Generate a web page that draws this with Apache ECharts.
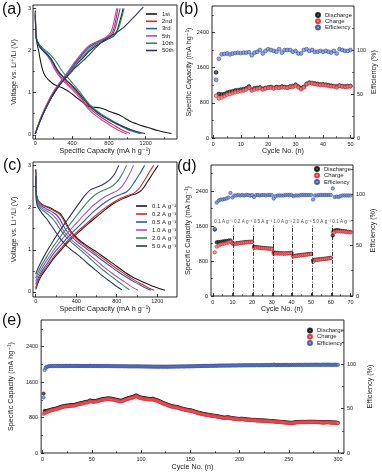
<!DOCTYPE html>
<html><head><meta charset="utf-8">
<script src="https://cdn.jsdelivr.net/npm/echarts@6/dist/echarts.min.js"></script>
<style>html,body{margin:0;padding:0;background:#fff}#c{width:382px;height:476px}</style>
</head><body><div id="c"></div>
<script>
// ---------- Panel (a): charge/discharge profiles at different cycles ----------
const cyclesA = ['1st','2nd','3rd','5th','10th','50th'];
const a1stDis = [[0,2.95],[4,2.6],[10,2.3],[20,2.15],[36,2.0],[52,1.8],[72,1.6],[95,1.45],[120,1.36],[160,1.27],[200,1.2],[250,1.15],[307,1.1],[380,1.0],[450,0.88],[520,0.76],[578,0.67],[640,0.655],[700,0.64],[760,0.6],[800,0.56],[850,0.52],[903,0.48],[970,0.4],[1030,0.32],[1100,0.26],[1180,0.2],[1246,0.16],[1330,0.1],[1410,0.06],[1481,0.03]];
const a1stChg = [[0,0.03],[30,0.2],[70,0.42],[126,0.68],[180,0.9],[240,1.1],[307,1.3],[370,1.47],[430,1.62],[488,1.76],[540,1.88],[590,1.99],[640,2.08],[700,2.17],[760,2.24],[820,2.3],[860,2.36],[890,2.48],[912,2.64],[935,2.82],[955,3.0]];
const a2ndDis = [[0,2.92],[3,2.6],[8,2.35],[18,2.24],[50,2.1],[90,2.0],[130,1.9],[163,1.8],[190,1.7],[217,1.58],[245,1.48],[271,1.4],[310,1.3],[343,1.23],[400,1.12],[452,1.0],[500,0.87],[542,0.74],[600,0.61],[668,0.49],[740,0.38],[813,0.28],[880,0.19],[955,0.1],[1030,0.03]];
const a2ndChg = [[0,0.03],[30,0.22],[70,0.45],[126,0.72],[180,0.95],[240,1.15],[307,1.34],[370,1.52],[430,1.7],[488,1.86],[530,1.98],[570,2.07],[620,2.14],[670,2.2],[720,2.25],[770,2.3],[810,2.35],[840,2.44],[860,2.58],[880,2.78],[898,3.0]];
const a3rdDis = [[0,2.9],[3,2.6],[8,2.36],[18,2.25],[50,2.11],[90,2.01],[130,1.92],[165,1.82],[195,1.71],[222,1.6],[250,1.5],[280,1.42],[320,1.32],[355,1.25],[410,1.14],[465,1.01],[515,0.88],[560,0.75],[620,0.62],[690,0.5],[770,0.39],[850,0.29],[930,0.2],[1020,0.11],[1138,0.03]];
const a3rdChg = [[0,0.03],[30,0.22],[70,0.45],[126,0.71],[180,0.93],[240,1.13],[307,1.32],[370,1.5],[430,1.67],[488,1.83],[530,1.95],[575,2.05],[625,2.13],[680,2.2],[730,2.25],[780,2.3],[825,2.35],[855,2.44],[878,2.6],[900,2.8],[922,3.0]];
const a5thDis = [[0,2.9],[3,2.58],[8,2.33],[18,2.22],[50,2.08],[90,1.98],[130,1.88],[160,1.78],[185,1.67],[212,1.55],[240,1.45],[268,1.37],[305,1.27],[340,1.2],[395,1.09],[445,0.97],[490,0.85],[535,0.72],[590,0.58],[655,0.46],[725,0.35],[795,0.25],[860,0.16],[930,0.08],[993,0.02]];
const a5thChg = [[0,0.03],[30,0.23],[70,0.46],[126,0.73],[180,0.96],[240,1.17],[307,1.36],[370,1.55],[430,1.73],[488,1.89],[530,2.0],[570,2.09],[620,2.16],[670,2.21],[720,2.26],[765,2.31],[800,2.37],[828,2.47],[848,2.62],[866,2.8],[884,3.0]];
const a10thDis = [[0,2.88],[3,2.58],[8,2.35],[18,2.24],[50,2.12],[90,2.04],[130,1.97],[175,1.87],[210,1.78],[245,1.67],[280,1.55],[310,1.46],[343,1.38],[400,1.24],[452,1.1],[500,0.97],[545,0.84],[590,0.72],[650,0.6],[720,0.49],[800,0.38],[880,0.28],[960,0.19],[1050,0.11],[1156,0.03]];
const a10thChg = [[0,0.03],[30,0.21],[70,0.43],[126,0.69],[180,0.91],[240,1.11],[307,1.3],[370,1.47],[430,1.63],[488,1.78],[540,1.92],[590,2.03],[640,2.12],[700,2.2],[760,2.26],[820,2.31],[865,2.37],[895,2.48],[920,2.63],[943,2.81],[965,3.0]];
const a50thDis = [[0,2.85],[3,2.55],[8,2.32],[18,2.22],[50,2.08],[90,1.98],[130,1.9],[170,1.8],[200,1.7],[230,1.58],[260,1.48],[295,1.4],[335,1.3],[390,1.19],[445,1.06],[495,0.93],[545,0.8],[590,0.68],[650,0.57],[720,0.46],[800,0.36],[890,0.26],[980,0.17],[1080,0.09],[1192,0.03]];
const a50thChg = [[0,0.03],[30,0.2],[70,0.42],[130,0.7],[200,0.98],[260,1.18],[307,1.3],[370,1.44],[430,1.58],[500,1.72],[578,1.88],[650,2.05],[722,2.2],[790,2.3],[849,2.38],[900,2.45],[960,2.55],[1030,2.7],[1100,2.86],[1174,3.03]];

// ---------- Panel (c): profiles at different current densities ----------
const ratesC = ['0.1 A g⁻¹','0.2 A g⁻¹','0.5 A g⁻¹','1.0 A g⁻¹','2.0 A g⁻¹','5.0 A g⁻¹'];
const c01Dis = [[0,2.9],[3,2.55],[8,2.3],[23,2.17],[60,2.08],[100,2.03],[138,2.0],[190,1.93],[230,1.88],[254,1.82],[280,1.72],[303,1.62],[330,1.5],[353,1.42],[390,1.32],[435,1.22],[480,1.14],[540,1.04],[600,0.95],[680,0.81],[765,0.67],[850,0.52],[930,0.39],[1010,0.29],[1095,0.2],[1185,0.11],[1276,0.04]];
const c01Chg = [[0,0.06],[20,0.2],[50,0.36],[105,0.55],[180,0.8],[270,1.05],[350,1.26],[435,1.44],[520,1.62],[600,1.78],[680,1.94],[765,2.09],[850,2.2],[930,2.28],[990,2.33],[1030,2.38],[1065,2.47],[1100,2.6],[1140,2.75],[1175,2.88],[1210,3.0]];
const c02Dis = [[0,2.9],[3,2.55],[8,2.3],[22,2.17],[60,2.07],[100,2.02],[138,1.98],[185,1.92],[225,1.86],[250,1.8],[275,1.7],[298,1.6],[325,1.48],[348,1.4],[385,1.3],[430,1.2],[475,1.12],[530,1.02],[590,0.92],[665,0.79],[745,0.65],[825,0.51],[900,0.39],[975,0.28],[1050,0.18],[1110,0.1],[1170,0.04]];
const c02Chg = [[0,0.1],[20,0.24],[50,0.4],[105,0.59],[180,0.84],[270,1.09],[350,1.3],[435,1.48],[520,1.66],[600,1.83],[680,1.98],[765,2.12],[840,2.22],[910,2.29],[960,2.33],[1000,2.4],[1035,2.5],[1070,2.63],[1105,2.77],[1135,2.89],[1165,3.0]];
const c05Dis = [[0,2.88],[3,2.5],[8,2.25],[20,2.13],[60,2.03],[100,1.98],[138,1.93],[180,1.87],[215,1.8],[240,1.72],[262,1.62],[285,1.52],[312,1.42],[340,1.34],[380,1.25],[425,1.16],[470,1.08],[525,0.98],[585,0.88],[655,0.75],[730,0.62],[805,0.49],[880,0.37],[950,0.27],[1020,0.18],[1080,0.1],[1140,0.04]];
const c05Chg = [[0,0.18],[20,0.3],[50,0.45],[105,0.65],[180,0.92],[270,1.17],[350,1.38],[435,1.58],[510,1.76],[580,1.92],[650,2.06],[720,2.18],[790,2.27],[850,2.32],[895,2.37],[930,2.45],[965,2.57],[1000,2.7],[1035,2.83],[1075,3.0]];
const c10Dis = [[0,2.85],[3,2.45],[8,2.2],[18,2.1],[55,2.0],[95,1.94],[135,1.88],[175,1.81],[205,1.73],[230,1.64],[252,1.54],[275,1.45],[300,1.37],[330,1.29],[370,1.2],[415,1.11],[460,1.02],[510,0.92],[560,0.82],[620,0.7],[685,0.57],[750,0.45],[815,0.34],[875,0.24],[930,0.15],[970,0.09],[1010,0.04]];
const c10Chg = [[0,0.25],[20,0.37],[50,0.52],[105,0.73],[180,1.0],[260,1.25],[340,1.47],[420,1.68],[490,1.86],[555,2.02],[620,2.15],[690,2.27],[750,2.34],[800,2.39],[840,2.47],[875,2.58],[905,2.7],[935,2.84],[965,3.0]];
const c20Dis = [[0,2.82],[3,2.4],[8,2.17],[18,2.07],[50,1.97],[90,1.9],[130,1.82],[165,1.74],[195,1.65],[220,1.56],[245,1.47],[270,1.39],[300,1.3],[335,1.22],[375,1.13],[420,1.04],[465,0.94],[515,0.84],[565,0.73],[620,0.61],[680,0.49],[740,0.38],[795,0.28],[845,0.19],[885,0.12],[925,0.05]];
const c20Chg = [[0,0.33],[20,0.45],[50,0.6],[105,0.82],[180,1.1],[255,1.35],[330,1.58],[400,1.8],[460,1.98],[515,2.14],[575,2.28],[640,2.38],[700,2.44],[750,2.5],[790,2.58],[825,2.68],[860,2.82],[897,3.0]];
const c50Dis = [[0,2.75],[3,2.3],[8,2.12],[18,2.03],[40,1.94],[70,1.84],[105,1.74],[140,1.62],[175,1.5],[205,1.39],[237,1.28],[270,1.18],[310,1.08],[360,0.98],[410,0.89],[460,0.79],[510,0.68],[560,0.58],[610,0.48],[660,0.38],[710,0.29],[760,0.2],[805,0.12],[850,0.05]];
const c50Chg = [[0,0.42],[20,0.55],[50,0.7],[100,0.92],[170,1.2],[240,1.46],[310,1.7],[380,1.94],[440,2.14],[490,2.3],[540,2.42],[600,2.48],[650,2.53],[700,2.6],[740,2.68],[780,2.8],[820,3.0]];

// ---------- Panel (b): 50 cycles at 0.1 A/g ----------
const bDis = [1490,1000,990,1000,1030,1050,1060,1080,1090,1100,1110,1130,1170,1100,1130,1140,1150,1120,1140,1150,1160,1140,1160,1150,1170,1160,1150,1170,1180,1210,1170,1130,1160,1230,1260,1250,1240,1230,1220,1220,1210,1200,1190,1180,1170,1190,1180,1170,1180,1180];
const bChg = [960,900,920,950,985,1000,1020,1040,1055,1065,1080,1100,1140,1080,1100,1115,1135,1100,1125,1140,1145,1125,1140,1140,1150,1145,1140,1160,1160,1190,1150,1110,1150,1220,1245,1240,1225,1215,1205,1205,1195,1185,1175,1170,1150,1185,1170,1160,1165,1175];
const bEff = [66,90,95,95.5,96,95,96,96.5,97,96.5,97,97,97.5,94,97,98,100,96,99,101,100,99,98,101,97,100,100,100,98,99,96,96,100,101,99,100,98,98,99,98,99,98,97,99,96,101,100,99,99,100];

// ---------- Panel (d): rate capability ----------
const rateNames = ['0.1 A g⁻¹','0.2 A g⁻¹','0.5 A g⁻¹','1.0 A g⁻¹','2.0 A g⁻¹','5.0 A g⁻¹','0.1 A g⁻¹'];
const rateStarts = [1,11,21,31,41,51,61];
const dDis = [1520,1230,1235,1240,1250,1255,1260,1270,1275,1210,
1200,1205,1210,1220,1225,1230,1235,1240,1240,1245,
1130,1120,1115,1110,1105,1100,1095,1090,1090,1085,
995,990,985,980,980,975,978,980,985,990,
915,920,930,935,940,945,950,955,960,965,
820,830,835,840,845,850,855,860,865,875,
1385,1500,1510,1505,1495,1490,1485,1480,1470,1465];
const dChg = [1000,1130,1160,1180,1190,1200,1215,1230,1245,1200,
1190,1198,1205,1213,1218,1222,1228,1232,1235,1238,
1100,1108,1105,1100,1097,1092,1088,1084,1082,1078,
965,975,975,972,970,968,972,975,978,982,
900,910,920,927,933,938,944,949,954,958,
780,820,828,834,840,845,850,855,860,868,
1465,1460,1480,1480,1478,1475,1470,1466,1460,1455];
const dEff = [66,92,94,95,95,95.5,96,97,101.5,97,
99,99,99.5,99,99.5,99,99.5,99.5,99,99.5,
97.5,99.5,99.5,99,99.5,99.5,99,99.5,99.5,99.5,
96,98.5,99,99,99,99,99.5,99.5,99.5,99.5,
98.5,99,99,99,99.5,99.5,99.5,99.5,99.5,99.5,
95,99,99,99.5,99.5,99.5,99.5,99.5,99.5,99.5,
106,97.5,98,97.5,98.5,99,99,99,99,99];

// ---------- Panel (e): 300 cycles ----------
const eDis = [
1340,950,940,945,955,960,965,975,980,985,
990,995,1000,1005,1010,1020,1030,1035,1045,1050,
1055,1060,1065,1068,1070,1072,1075,1078,1080,1082,
1080,1085,1090,1095,1105,1110,1115,1120,1125,1130,
1135,1140,1150,1155,1150,1160,1170,1185,1180,1175,
1170,1168,1172,1178,1180,1185,1190,1200,1205,1210,
1215,1220,1222,1225,1230,1235,1232,1230,1228,1225,
1220,1215,1210,1205,1200,1195,1190,1185,1180,1178,
1185,1195,1205,1215,1222,1230,1238,1245,1250,1255,
1262,1270,1278,1285,1300,1290,1275,1265,1258,1250,
1245,1240,1238,1235,1232,1228,1225,1222,1220,1218,
1222,1228,1215,1205,1200,1195,1185,1175,1165,1155,
1145,1135,1125,1115,1108,1100,1090,1082,1075,1065,
1060,1055,1050,1045,1042,1040,1035,1028,1020,1012,
1005,1000,995,990,985,980,975,970,968,965,
960,955,948,940,932,925,918,912,905,900,
895,890,885,880,876,872,868,865,860,856,
852,848,845,842,840,836,832,828,824,820,
815,810,805,800,798,800,805,808,805,800,
795,790,785,782,780,778,775,772,770,768,
770,775,772,768,765,762,760,758,756,754,
752,750,748,746,745,744,742,740,740,738,
738,736,735,735,734,733,732,730,728,726,
724,722,720,718,716,714,712,710,708,706,
704,702,700,698,696,694,692,690,688,686,
684,682,680,684,688,692,695,698,700,700,
702,700,702,704,702,700,702,704,705,704,
705,706,705,704,705,706,704,702,700,702,
700,698,696,694,692,694,696,698,700,698,
696,694,692,690,688,690,688,686,684,682];
const eChg = [
880,905,910,920,930,940,948,958,965,970,
975,980,985,990,995,1005,1015,1020,1030,1035,
1040,1045,1050,1052,1055,1058,1060,1062,1065,1068,
1066,1070,1075,1080,1090,1095,1100,1105,1110,1115,
1120,1125,1135,1140,1138,1145,1155,1168,1165,1160,
1155,1152,1158,1163,1165,1170,1175,1185,1190,1195,
1200,1205,1208,1210,1215,1220,1218,1215,1213,1210,
1205,1200,1195,1190,1185,1180,1175,1170,1166,1164,
1170,1180,1190,1200,1207,1215,1222,1230,1235,1240,
1246,1254,1262,1270,1282,1275,1260,1250,1243,1236,
1231,1226,1224,1221,1218,1214,1211,1208,1206,1204,
1207,1212,1200,1191,1186,1181,1171,1161,1151,1141,
1131,1121,1112,1102,1095,1087,1077,1069,1062,1053,
1047,1042,1037,1032,1029,1027,1022,1015,1007,1000,
993,988,983,978,973,968,963,958,956,953,
948,943,936,928,921,914,907,901,894,889,
884,879,874,869,865,861,857,854,849,845,
841,837,834,831,829,825,821,817,814,810,
805,800,795,790,788,790,795,798,795,790,
785,781,776,773,771,769,766,763,761,759,
761,766,763,759,756,754,752,750,748,746,
744,742,740,738,737,736,734,732,732,730,
730,728,727,727,726,725,724,722,720,718,
716,714,712,710,708,707,705,703,701,699,
697,695,693,691,689,687,685,683,681,679,
677,675,673,677,681,685,688,691,693,693,
695,693,695,697,695,693,695,697,698,697,
698,699,698,697,698,699,697,695,693,695,
693,691,689,687,685,687,689,691,693,691,
689,687,685,683,681,683,681,679,677,675];
const eEff = [
62.5,93.5,96,97,97.5,97.8,98,98,98.1,98,
98.2,98,98.3,98.1,98,98.4,98.2,98,98.3,98.1,
98.2,98,98.4,98.1,98.3,98,98.2,98.4,98.1,98.3,
98,98.2,98.1,98.4,98,98.3,98.1,98.2,98,98.3,
98.1,98.2,98,98.3,98.1,98,98.2,98.4,98.1,98,
98.2,98,98.3,98.1,98.2,98,98.1,98.3,98,98.2,
98.1,98,98.2,98.1,98,98.2,98.1,98,98.2,98,
97.9,98.1,97.8,98,97.9,97.8,98,97.9,97.8,98,
97.8,97.9,97.7,97.8,97.9,97.7,97.8,97.6,97.8,97.7,
97.6,97.8,97.7,97.6,97.8,97.7,97.6,97.8,97.6,97.7,
97.5,97.7,97.6,97.5,97.6,97.4,97.6,97.5,97.4,97.6,
97.3,97.5,97.4,97.2,97.5,97.3,97.4,97.2,97.5,97.3,
97.4,97.2,97.5,97.3,97.4,97.2,97.3,97.5,97.3,97.4,
97.5,97.3,97.6,97.4,97.5,97.7,97.4,97.6,97.5,97.7,
97.6,97.8,97.5,97.7,97.6,97.8,97.7,97.9,97.6,97.8,
97.9,97.7,98,97.8,98.1,97.9,98,98.2,97.9,98.1,
98.2,98,98.3,98.1,98.2,98.4,98.1,98.3,98.2,98.4,
98.3,98.5,98.2,98.4,98.6,98.3,98.5,98.4,98.6,98.5,
98.7,98.4,98.6,98.8,98.5,98.7,98.6,98.8,98.5,98.7,
98.8,98.6,98.9,98.7,98.8,98.6,98.9,98.7,99,98.8,
98.9,98.7,99,98.8,99.1,98.9,99,98.8,99.1,98.9,
99,99.2,98.9,99.1,99,98.9,99.2,99,99.1,98.9,
99.1,99,99.2,98.9,99.1,99.3,99,99.2,99.1,99,
99.2,99.4,99.1,99.3,99.8,99.2,99.3,99.1,99.4,99.2,
99.3,99.1,99.4,99.2,99.3,99.5,99.2,99.4,99.3,99.1,
99.4,99.2,99.5,99.3,99.4,99.2,99.5,99.3,99.4,99.6,
99.3,99.5,99.4,99.2,99.5,99.3,99.6,99.4,99.5,99.3,
99.5,99.4,99.6,99.3,99.5,99.7,99.4,99.5,99.6,99.4,
99.5,99.3,99.6,99.4,99.7,99.5,99.4,99.6,99.5,99.7,
99.4,99.6,99.5,99.3,99.6,99.5,99.7,99.4,99.6,99.5];

// ---------- tick values ----------
const capTicks = [0,400,800,1200], capMinor = [200,600,1000,1400];
const voltTicks = [0,1,2,3], voltMinor = [0.5,1.5,2.5];
const spTicks = [0,800,1600,2400], spMinor = [400,1200,2000,2800];
const effTicks = [0,50,100], effMinor = [25,75,125];
const cyc50Ticks = [0,10,20,30,40,50], cyc50Minor = [5,15,25,35,45];
const cyc70Ticks = [0,10,20,30,40,50,60,70], cyc70Minor = [5,15,25,35,45,55,65];
const cyc300Ticks = [0,50,100,150,200,250,300], cyc300Minor = [25,75,125,175,225,275];

// ---------- build ----------
const FONT = "'Liberation Sans', Arial, 'DejaVu Sans', sans-serif";
const lineColors = ['#1a1a1a','#d62a35','#2f5cab','#b14fb8','#2f8d5a','#2d3762'];
const xMain = [], yMain = [], xMinorAx = [], yMinorAx = [];
function axis(dim, grid, min, max, majors, minors, position, name, nameGap, margin, extra) {
  const main = Object.assign({
    type:'value', gridIndex:grid, min:min, max:max, position:position,
    axisLine:{show:false, onZero:false}, splitLine:{show:false},
    axisTick:{show:true, inside:true, length:3, customValues:majors, lineStyle:{color:'#111', width:0.8}},
    axisLabel:{show:true, customValues:majors, fontSize:5.5, color:'#222', margin:margin, fontFamily:FONT,
      formatter: v => String(v)},
    name:name, nameLocation:'middle', nameGap:nameGap,
    nameTextStyle:{fontSize:7.2, color:'#222', fontFamily:FONT}
  }, extra || {});
  const minor = {type:'value', gridIndex:grid, min:min, max:max, position:position,
    axisLine:{show:false, onZero:false}, splitLine:{show:false}, axisLabel:{show:false},
    axisTick:{show:true, inside:true, length:1.8, customValues:minors, lineStyle:{color:'#111', width:0.7}}};
  const arr = dim === 'x' ? xMain : yMain;
  arr.push(main);
  (dim === 'x' ? xMinorAx : yMinorAx).push(minor);
  return arr.length - 1;
}
const SP = 'Specific Capacity (mA h g⁻¹)';
const SP2 = 'Specific Capacity (mA hg⁻¹)';
const VOLT = 'Voltage vs. Li⁺/Li (V)';
const CYC = 'Cycle No. (n)';
const EFF = 'Efficiency (%)';

const grids = [
  {left:33, top:5, width:144, height:134},
  {left:212, top:6, width:142, height:132},
  {left:33, top:162, width:144, height:135},
  {left:211, top:165, width:142, height:131},
  {left:36, top:320, width:317, height:133}
].map(g => Object.assign(g, {show:true, borderColor:'#111', borderWidth:0.9, backgroundColor:'transparent'}));

const xa = axis('x',0,-25,1540,capTicks,capMinor,'bottom',SP,8,1.5);
const ya = axis('y',0,-0.1,3.08,voltTicks,voltMinor,'left',VOLT,15,2);
const xb = axis('x',1,-0.5,51.3,cyc50Ticks,cyc50Minor,'bottom',CYC,10,3);
const yb = axis('y',1,0,3000,spTicks,spMinor,'left',SP2,13,3);
const yb2 = axis('y',1,0,150,effTicks,effMinor,'right',EFF,14,3);
const xc = axis('x',2,-27,1395,capTicks,[200,600,1000],'bottom',SP,6,1.5);
const yc = axis('y',2,-0.12,3.08,voltTicks,voltMinor,'left',VOLT,15,2);
const xd = axis('x',3,-0.9,71.3,cyc70Ticks,cyc70Minor,'bottom',CYC,9,3);
const yd = axis('y',3,0,3000,spTicks,spMinor,'left',SP2,13,3);
const yd2 = axis('y',3,0,129,effTicks,effMinor,'right',EFF,14,3);
const xe = axis('x',4,-1.5,306,cyc300Ticks,cyc300Minor,'bottom',CYC,11,3);
const ye = axis('y',4,0,3000,spTicks,spMinor,'left',SP2,20,3);
const ye2 = axis('y',4,0,150,effTicks,effMinor,'right',EFF,18,3);

const series = [];
function curve(name, data, xi, yi, color) {
  series.push({type:'line', name:name, data:data, xAxisIndex:xi, yAxisIndex:yi, symbol:'none', showSymbol:false,
    smooth:0.25, lineStyle:{width:1.1, color:color}, itemStyle:{color:color}, silent:true});
}
const aSets = [[a1stDis,a1stChg],[a2ndDis,a2ndChg],[a3rdDis,a3rdChg],[a5thDis,a5thChg],[a10thDis,a10thChg],[a50thDis,a50thChg]];
aSets.forEach((s,i) => { curve(cyclesA[i], s[0], xa, ya, lineColors[i]); curve(cyclesA[i], s[1], xa, ya, lineColors[i]); });
const cSets = [[c01Dis,c01Chg],[c02Dis,c02Chg],[c05Dis,c05Chg],[c10Dis,c10Chg],[c20Dis,c20Chg],[c50Dis,c50Chg]];
cSets.forEach((s,i) => { curve(ratesC[i], s[0], xc, yc, lineColors[i]); curve(ratesC[i], s[1], xc, yc, lineColors[i]); });

const stDis = {color:'#3c3c3c', borderColor:'#000', borderWidth:0.7};
const stChg = {color:'#f08080', borderColor:'#d11f27', borderWidth:0.7};
const stEff = {color:'#7a95d4', borderColor:'#2b4593', borderWidth:0.7};
function scat(name, vals, xi, yi, st, size, extra) {
  series.push(Object.assign({type:'scatter', name:name, data:vals.map((v,i)=>[i+1,v]), xAxisIndex:xi, yAxisIndex:yi,
    symbol:'circle', symbolSize:size, itemStyle:st, silent:true}, extra || {}));
}
scat('Discharge', bDis, xb, yb, stDis, 3.8);
scat('Charge', bChg, xb, yb, stChg, 3.8);
scat('Efficiency', bEff, xb, yb2, stEff, 3.8);

const boundaries = rateStarts.slice(1).map(s => s - 0.5);
scat('Discharge', dDis, xd, yd, stDis, 3.4, {markLine:{silent:true, symbol:'none', label:{show:false},
  lineStyle:{type:[4,1.5,1,1.5], color:'#111', width:0.8},
  data: boundaries.map(b => [{coord:[b,0]},{coord:[b,1620]}])}});
scat('Charge', dChg, xd, yd, stChg, 3.4);
scat('Efficiency', dEff, xd, yd2, stEff, 3.4);
series.push({type:'scatter', name:'rates', xAxisIndex:xd, yAxisIndex:yd, symbol:'circle', symbolSize:0.1,
  itemStyle:{color:'transparent'}, silent:true,
  data: rateStarts.map(s => [s + 4.5, 1700]),
  label:{show:true, position:'inside', fontSize:4.6, color:'#222', fontFamily:FONT, formatter: p => rateNames[p.dataIndex]}});

scat('Discharge', eDis, xe, ye, stDis, 3.2);
scat('Charge', eChg, xe, ye, stChg, 3.2);
scat('Efficiency', eEff, xe, ye2, stEff, 3.2);

function legendOf(names, left, top, gap, isLine) {
  return {orient:'vertical', left:left, top:top, padding:0, itemGap:gap,
    itemWidth: isLine ? 11 : 4, itemHeight: isLine ? 1.6 : 4, icon: isLine ? 'rect' : 'circle',
    textStyle:{fontSize:6, lineHeight:6, color:'#222', fontFamily:FONT}, data:names, selectedMode:false};
}
const lbl = (t, l, tp) => ({type:'text', left:l, top:tp, style:{text:t, fontSize:16, fill:'#111', fontFamily:FONT}});

const chart = echarts.init(document.getElementById('c'), null, {renderer:'canvas'});
chart.setOption({
  animation:false,
  grid: grids,
  xAxis: xMain.concat(xMinorAx),
  yAxis: yMain.concat(yMinorAx),
  legend: [
    legendOf(cyclesA, 146, 11, 1.3, true),
    legendOf(ratesC, 136, 203, 2, true),
    legendOf(['Discharge','Charge','Efficiency'], 315, 12, 0.3, false),
    legendOf(['Discharge','Charge','Efficiency'], 314, 166, 0.5, false),
    legendOf(['Discharge','Charge','Efficiency'], 307, 327.5, 0.3, false)
  ],
  graphic: [lbl('(a)',2,2), lbl('(b)',179,2), lbl('(c)',3,158), lbl('(d)',177,159), lbl('(e)',2,313)],
  series: series
});
</script></body></html>
